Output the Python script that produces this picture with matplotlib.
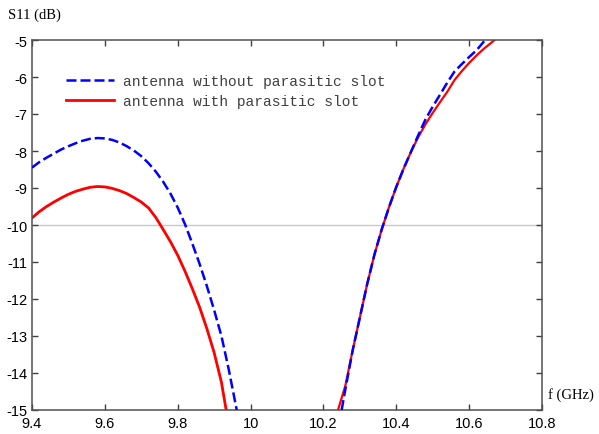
import matplotlib.pyplot as plt

plt.rcParams['axes.unicode_minus'] = False

# S11 of the antenna, without and with the parasitic slot (two branches each,
# the notch between them drops below the plotted range)
f_without_lo = [9.40, 9.42, 9.44, 9.46, 9.48, 9.50, 9.52, 9.54, 9.56, 9.58, 9.60,
                9.62, 9.64, 9.66, 9.68, 9.70, 9.72, 9.74, 9.76, 9.78, 9.80, 9.82,
                9.84, 9.86, 9.88, 9.90, 9.92, 9.94, 9.962]
s11_without_lo = [-8.45, -8.30, -8.18, -8.07, -7.96, -7.87, -7.79, -7.72, -7.67, -7.65, -7.66,
                  -7.70, -7.77, -7.87, -7.99, -8.14, -8.33, -8.56, -8.83, -9.15, -9.53, -9.98,
                  -10.50, -11.05, -11.65, -12.30, -13.00, -13.90, -15.0]
f_without_hi = [10.25, 10.26, 10.28, 10.30, 10.32, 10.34, 10.36, 10.38, 10.40, 10.42,
                10.44, 10.46, 10.48, 10.50, 10.52, 10.54, 10.56, 10.58, 10.60, 10.62, 10.644]
s11_without_hi = [-15.0, -14.45, -13.40, -12.50, -11.60, -10.80, -10.12, -9.52, -8.97, -8.48,
                  -8.03, -7.58, -7.15, -6.80, -6.48, -6.15, -5.85, -5.65, -5.46, -5.28, -5.0]

f_with_lo = [9.40, 9.42, 9.44, 9.46, 9.48, 9.50, 9.52, 9.54, 9.56, 9.58, 9.60,
             9.62, 9.64, 9.66, 9.68, 9.70, 9.72, 9.74, 9.76, 9.78, 9.80, 9.82,
             9.84, 9.86, 9.88, 9.90, 9.92, 9.933]
s11_with_lo = [-9.81, -9.64, -9.50, -9.38, -9.27, -9.17, -9.09, -9.03, -8.98, -8.96, -8.97,
               -9.01, -9.07, -9.15, -9.26, -9.38, -9.54, -9.80, -10.12, -10.45, -10.82, -11.25,
               -11.72, -12.22, -12.80, -13.45, -14.25, -15.0]
f_with_hi = [10.24, 10.26, 10.28, 10.30, 10.32, 10.34, 10.36, 10.38, 10.40, 10.42,
             10.44, 10.46, 10.48, 10.50, 10.52, 10.54, 10.56, 10.58, 10.60, 10.62,
             10.64, 10.66, 10.676]
s11_with_hi = [-15.0, -14.35, -13.40, -12.50, -11.60, -10.80, -10.12, -9.52, -8.97, -8.48,
               -8.03, -7.63, -7.28, -6.97, -6.68, -6.40, -6.08, -5.84, -5.62, -5.42,
               -5.24, -5.08, -4.95]

labels = ["antenna without parasitic slot", "antenna with parasitic slot"]
x_ticks = [9.4, 9.6, 9.8, 10.0, 10.2, 10.4, 10.6, 10.8]
x_tick_labels = ["9.4", "9.6", "9.8", "10", "10.2", "10.4", "10.6", "10.8"]
y_ticks = list(range(-15, -4))

fig = plt.figure(figsize=(5.99, 4.35), dpi=100)
ax = fig.add_axes([32 / 599, 24 / 435, 510 / 599, 370 / 435])

ax.axhline(-10, color="#c8c8c8", lw=1.0, zorder=1)

blue, = ax.plot(f_without_lo, s11_without_lo, color="#0000ff", lw=1.8,
                dashes=(4, 1.6), label=labels[0], zorder=3)
ax.plot(f_without_hi, s11_without_hi, color="#0000ff", lw=1.8,
        dashes=(4, 1.6), zorder=3)
red, = ax.plot(f_with_lo, s11_with_lo, color="#ff0000", lw=2.0,
               label=labels[1], zorder=2)
ax.plot(f_with_hi, s11_with_hi, color="#ff0000", lw=1.6, zorder=2)

ax.set_xlim(9.4, 10.8)
ax.set_ylim(-15, -5)
ax.set_xticks(x_ticks)
ax.set_xticklabels(x_tick_labels)
ax.set_yticks(y_ticks)

for sp in ax.spines.values():
    sp.set_color("#505050")
    sp.set_linewidth(1.1)

ax.tick_params(direction="in", length=4, width=1, color="#404040",
               top=True, right=True, labelsize=10.5)
ax.tick_params(axis="x", pad=4)
ax.tick_params(axis="y", pad=3)
for t in ax.get_xticklabels() + ax.get_yticklabels():
    t.set_family("Liberation Sans")

leg = ax.legend(handles=[blue, red], loc="upper left",
                bbox_to_anchor=(0.055, 0.924), frameon=False,
                prop={"family": "Liberation Mono", "size": 10.5},
                handlelength=3.3, handletextpad=0.6, labelspacing=0.4,
                borderaxespad=0)
for t in leg.get_texts():
    t.set_color("#404040")

fig.text(8 / 599, 1 - 15 / 435, "S11 (dB)", family="Liberation Serif",
         fontsize=10.5, va="center", ha="left")
fig.text(548 / 599, 1 - 395 / 435, "f (GHz)", family="Liberation Serif",
         fontsize=10.5, va="center", ha="left")

fig.savefig("out.png", dpi=100)
